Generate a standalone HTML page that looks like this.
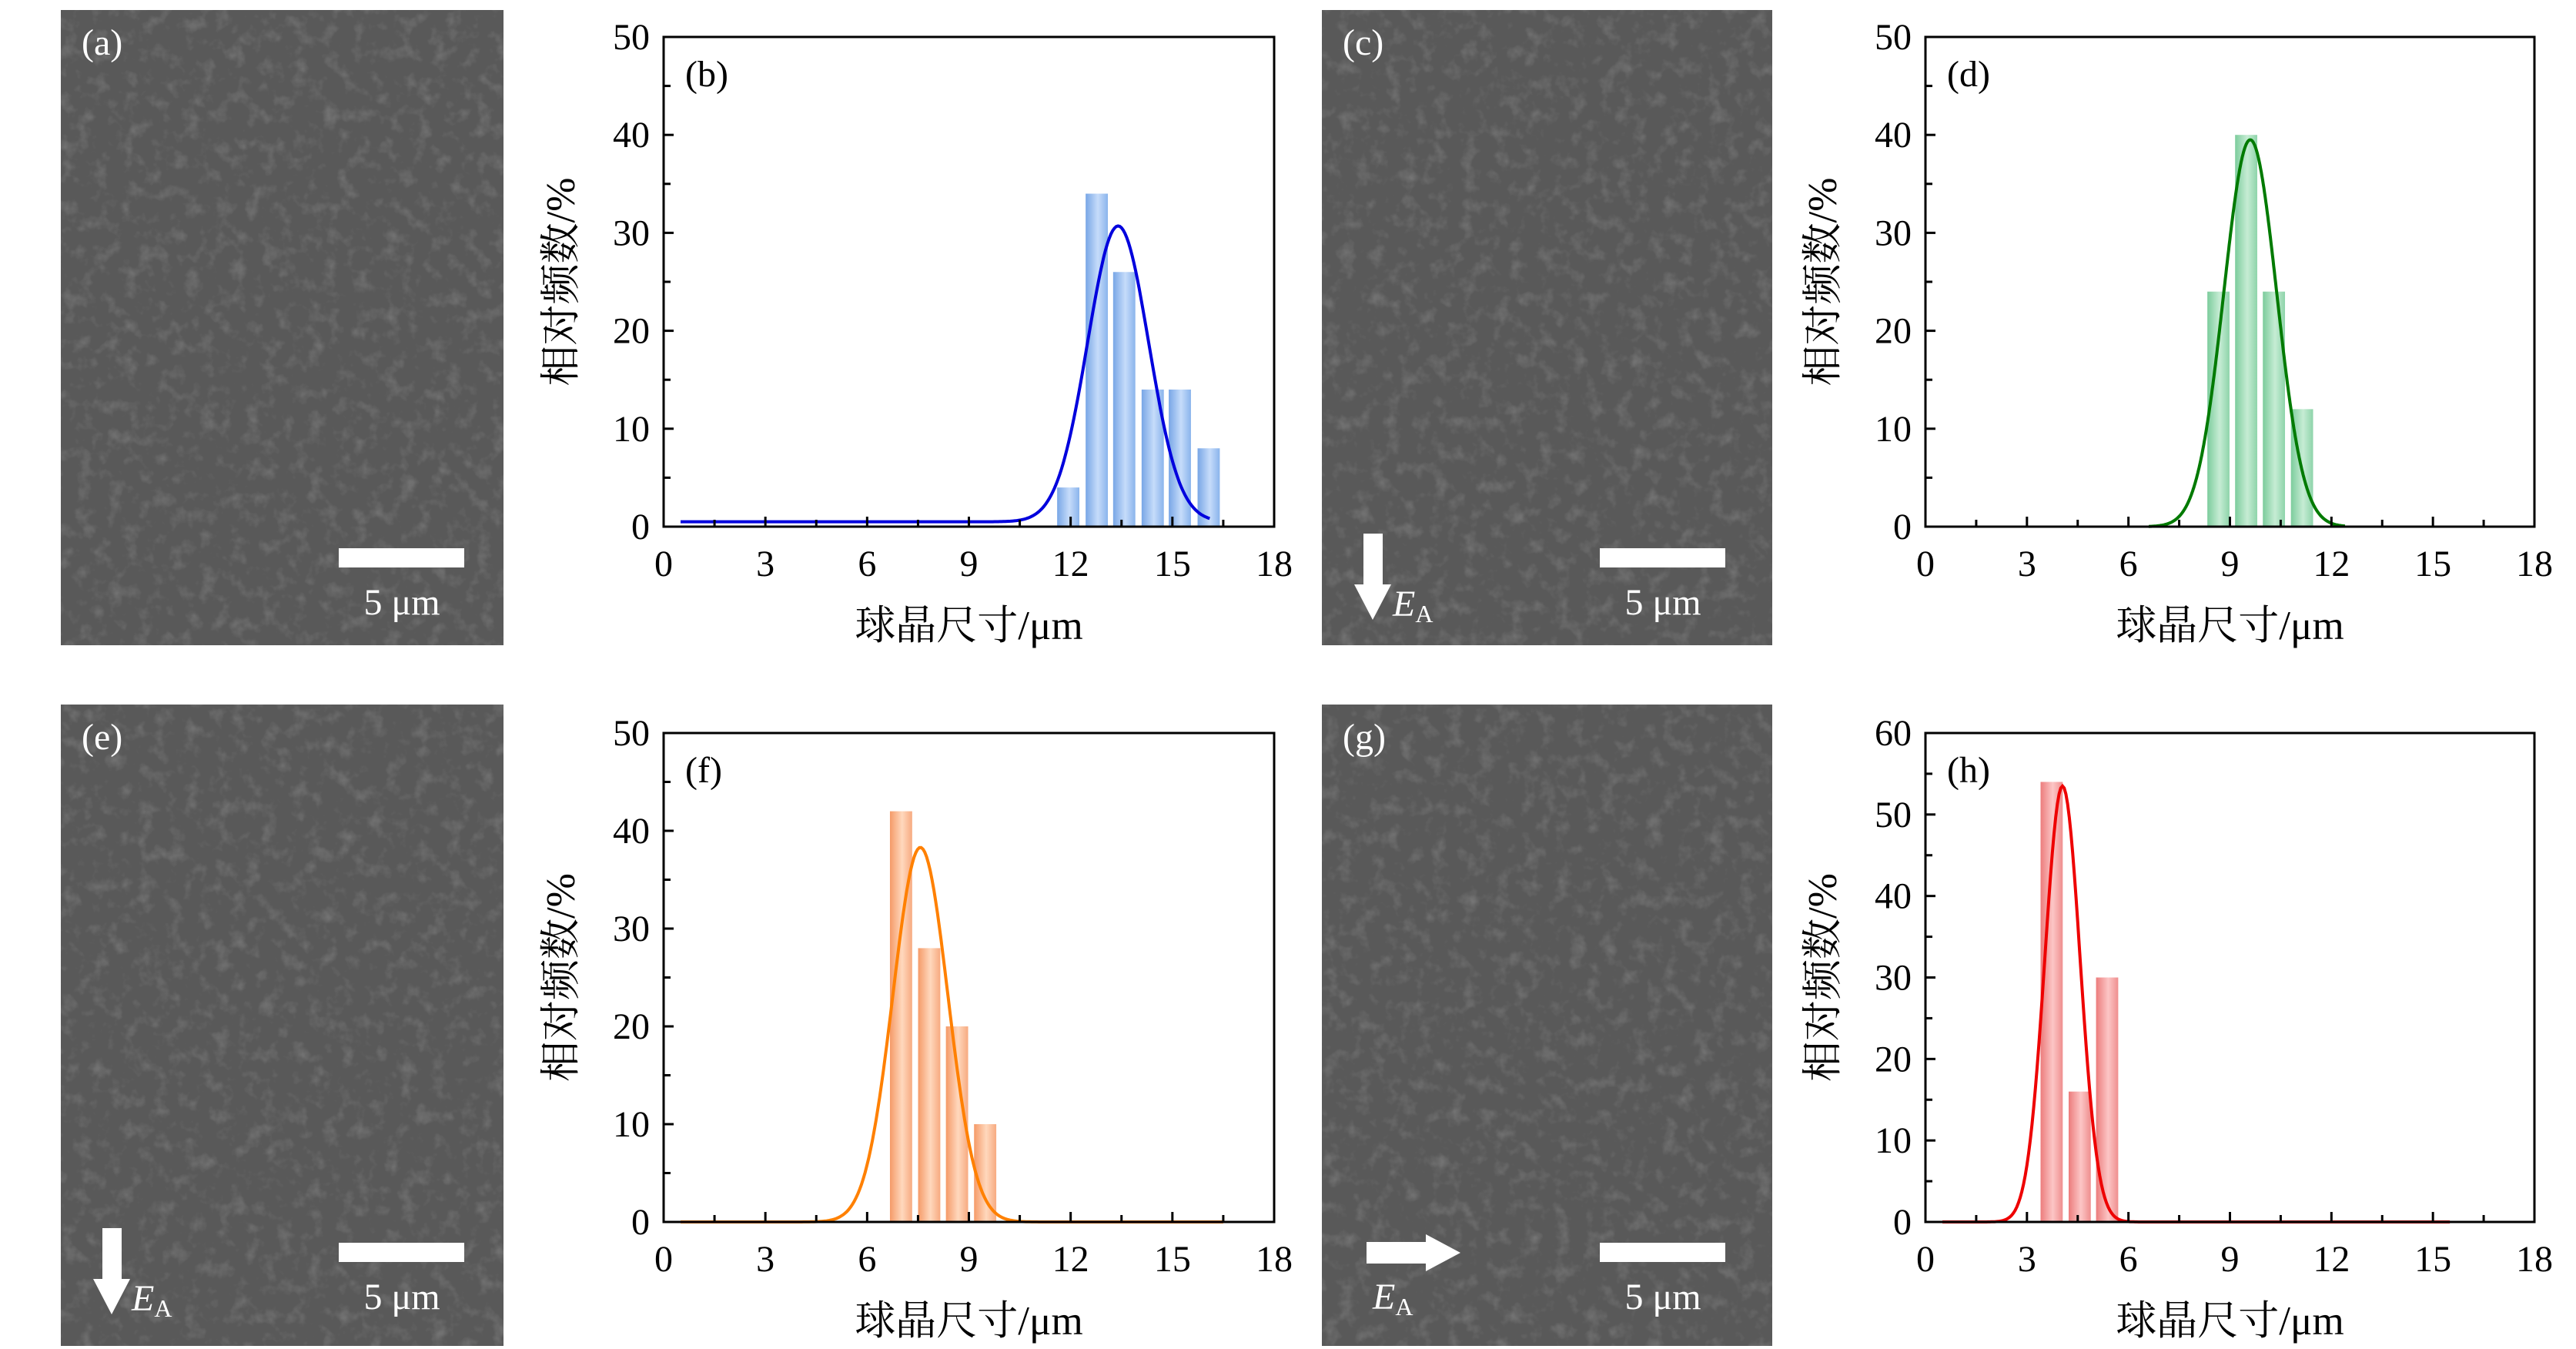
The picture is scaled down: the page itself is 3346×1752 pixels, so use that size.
<!DOCTYPE html>
<html><head><meta charset="utf-8"><style>
html,body{margin:0;padding:0;background:#fff;}
svg{display:block;}
</style></head><body>
<svg id="fig" width="3346" height="1752" viewBox="0 0 3346 1752" xmlns="http://www.w3.org/2000/svg">
<defs>
<filter id="noise" x="0" y="0" width="100%" height="100%">
<feTurbulence type="fractalNoise" baseFrequency="0.05" numOctaves="3" seed="3"/>
<feColorMatrix type="matrix" values="0 0 0 0 1  0 0 0 0 1  0 0 0 0 1  1.2 0 0 0 -0.6"/>
</filter>
<linearGradient id="g-blue" x1="0" x2="1" y1="0" y2="0"><stop offset="0" stop-color="#78a6e6"/><stop offset="0.55" stop-color="#c6dcfa"/><stop offset="1" stop-color="#8ab4ec"/></linearGradient>
<linearGradient id="g-green" x1="0" x2="1" y1="0" y2="0"><stop offset="0" stop-color="#7ccc9c"/><stop offset="0.55" stop-color="#c6ecd4"/><stop offset="1" stop-color="#8ed4aa"/></linearGradient>
<linearGradient id="g-orange" x1="0" x2="1" y1="0" y2="0"><stop offset="0" stop-color="#f59a68"/><stop offset="0.55" stop-color="#ffd8bd"/><stop offset="1" stop-color="#f7aa80"/></linearGradient>
<linearGradient id="g-red" x1="0" x2="1" y1="0" y2="0"><stop offset="0" stop-color="#ec7c7c"/><stop offset="0.55" stop-color="#fcc6c6"/><stop offset="1" stop-color="#ef8e8e"/></linearGradient>
</defs>
</svg>
<script>
// ---- chart data ----
const xTicks = [0, 3, 6, 9, 12, 15, 18];
const yTicksB = [0, 10, 20, 30, 40, 50];
const yTicksH = [0, 10, 20, 30, 40, 50, 60];
const binsB = [11.93, 12.77, 13.58, 14.42, 15.22, 16.07];
const valsB = [4, 34, 26, 14, 14, 8];
const fitB = [13.4, 0.9, 30.2, 0.5, 0.5, 16.1]; // mu, sigma, amp, base, xstart, xend
const binsD = [8.66, 9.48, 10.3, 11.13];
const valsD = [24, 40, 24, 12];
const fitD = [9.6, 0.78, 39.5, 0, 6.6, 12.4];
const binsF = [7.0, 7.83, 8.65, 9.48];
const valsF = [42, 28, 20, 10];
const fitF = [7.57, 0.81, 38.3, 0, 0.5, 16.5];
const binsH = [3.73, 4.56, 5.37];
const valsH = [54, 16, 30];
const fitH = [4.05, 0.52, 53.5, 0, 0.5, 15.5];

const NS = 'http://www.w3.org/2000/svg';
const svg = document.getElementById('fig');
function mk(tag, attrs, parent) {
  const e = document.createElementNS(NS, tag);
  for (const k in attrs) e.setAttribute(k, attrs[k]);
  (parent || svg).appendChild(e);
  return e;
}
const SERIF = '"Liberation Serif", "Noto Serif CJK SC", serif';

// ---- micrograph panels ----
function micro(x, y, w, h, label, key) {
  const g = mk('g', {});
  
  
  mk('rect', {x: x, y: y, width: w, height: h, fill: '#595959'}, g);
  mk('rect', {x: x, y: y, width: w, height: h, filter: 'url(#noise)', opacity: 0.3}, g);
  const t = mk('text', {x: x + 27, y: y + 58, fill: '#fff', 'font-family': SERIF, 'font-size': 48}, g);
  t.textContent = label;
  
  
  const sb = mk('rect', {x: x + 361, y: y + 699, width: 163, height: 25, fill: '#fff'}, g);
  
  
  const st = mk('text', {x: x + 443, y: y + 785, fill: '#fff', 'font-family': SERIF, 'font-size': 48, 'text-anchor': 'middle'}, g);
  st.textContent = '5 μm';
  
  
  return g;
}
function downArrow(x, y, key) {
  const g = mk('g', {});
  
  
  mk('polygon', {points: `${x+54},${y+680} ${x+79},${y+680} ${x+79},${y+746} ${x+90},${y+746} ${x+66},${y+792} ${x+42},${y+746} ${x+54},${y+746}`, fill: '#fff'}, g);
  const t = mk('text', {x: x + 92, y: y + 787, fill: '#fff', 'font-family': SERIF, 'font-size': 48, 'font-style': 'italic'}, g);
  t.textContent = 'E';
  const s = mk('tspan', {'font-size': 32, 'font-style': 'normal', dy: 8}, t);
  s.textContent = 'A';
}
function rightArrow(x, y, key) {
  const g = mk('g', {});
  
  
  mk('polygon', {points: `${x+58},${y+698} ${x+135},${y+698} ${x+135},${y+688} ${x+180},${y+712} ${x+135},${y+736} ${x+135},${y+726} ${x+58},${y+726}`, fill: '#fff'}, g);
  const t = mk('text', {x: x + 66, y: y + 785, fill: '#fff', 'font-family': SERIF, 'font-size': 48, 'font-style': 'italic'}, g);
  t.textContent = 'E';
  const s = mk('tspan', {'font-size': 32, 'font-style': 'normal', dy: 8}, t);
  s.textContent = 'A';
}
micro(79, 13, 575, 825, '(a)', 'a');
micro(1717, 13, 585, 825, '(c)', 'c');
downArrow(1717, 13, 'c');
micro(79, 915, 575, 833, '(e)', 'e');
downArrow(79, 915, 'e');
micro(1717, 915, 585, 833, '(g)', 'g');
rightArrow(1717, 915, 'g');

// ---- histogram charts ----
function chart(cfg) {
  const {L, R, T, B, ymax, yTicks, bins, vals, fit, color, grad, label, key} = cfg;
  const g = mk('g', {});
  
  
  const xs = v => L + (v / 18) * (R - L);
  const ys = v => B - (v / ymax) * (B - T);
  const bw = 0.655;
  bins.forEach((c, i) => {
    const r = mk('rect', {x: xs(c - bw / 2), y: ys(vals[i]), width: xs(bw) - L, height: B - ys(vals[i]), fill: `url(#${grad})`}, g);
    
    
  });
  const [mu, sg, amp, base, x0, x1] = fit;
  let d = '';
  const N = 300;
  for (let i = 0; i <= N; i++) {
    const xv = x0 + (x1 - x0) * i / N;
    const yv = base + amp * Math.exp(-((xv - mu) ** 2) / (2 * sg * sg));
    d += (i ? 'L' : 'M') + xs(xv).toFixed(1) + ',' + ys(yv).toFixed(1);
  }
  const p = mk('path', {d: d, fill: 'none', stroke: color, 'stroke-width': 4}, g);
  
  
  const fr = mk('rect', {x: L, y: T, width: R - L, height: B - T, fill: 'none', stroke: '#000', 'stroke-width': 3}, g);
  
  
  xTicks.forEach((v, i) => {
    mk('line', {x1: xs(v), x2: xs(v), y1: B, y2: B - 13, stroke: '#000', 'stroke-width': 3}, g);
    if (i < xTicks.length - 1) mk('line', {x1: xs(v + 1.5), x2: xs(v + 1.5), y1: B, y2: B - 9, stroke: '#000', 'stroke-width': 3}, g);
    const t = mk('text', {x: xs(v), y: B + 64, 'font-family': SERIF, 'font-size': 48, 'text-anchor': 'middle'}, g);
    t.textContent = v;
    
    
  });
  const step = yTicks[1] - yTicks[0];
  yTicks.forEach((v, i) => {
    mk('line', {x1: L, x2: L + 13, y1: ys(v), y2: ys(v), stroke: '#000', 'stroke-width': 3}, g);
    if (i < yTicks.length - 1) mk('line', {x1: L, x2: L + 9, y1: ys(v + step / 2), y2: ys(v + step / 2), stroke: '#000', 'stroke-width': 3}, g);
    const t = mk('text', {x: L - 18, y: ys(v) + 16, 'font-family': SERIF, 'font-size': 48, 'text-anchor': 'end'}, g);
    t.textContent = v;
    
    
  });
  const pl = mk('text', {x: L + 28, y: T + 64, 'font-family': SERIF, 'font-size': 48}, g);
  pl.textContent = label;
  
  
  const xt = mk('text', {x: (L + R) / 2, y: B + 146, 'font-family': SERIF, 'font-size': 53, 'text-anchor': 'middle'}, g);
  xt.textContent = '球晶尺寸/μm';
  
  
  const cy = (T + B) / 2;
  const yt = mk('text', {x: L - 116, y: cy, 'font-family': SERIF, 'font-size': 53, 'text-anchor': 'middle', transform: `rotate(-90 ${L - 116} ${cy})`}, g);
  yt.textContent = '相对频数/%';
  
  
}
chart({L: 862, R: 1655, T: 48, B: 684, ymax: 50, yTicks: yTicksB, bins: binsB, vals: valsB, fit: fitB, color: '#0000dd', grad: 'g-blue', label: '(b)', key: 'b'});
chart({L: 2501, R: 3292, T: 48, B: 684, ymax: 50, yTicks: yTicksB, bins: binsD, vals: valsD, fit: fitD, color: '#007a00', grad: 'g-green', label: '(d)', key: 'd'});
chart({L: 862, R: 1655, T: 952, B: 1587, ymax: 50, yTicks: yTicksB, bins: binsF, vals: valsF, fit: fitF, color: '#ff8000', grad: 'g-orange', label: '(f)', key: 'f'});
chart({L: 2501, R: 3292, T: 952, B: 1587, ymax: 60, yTicks: yTicksH, bins: binsH, vals: valsH, fit: fitH, color: '#ee0000', grad: 'g-red', label: '(h)', key: 'h'});
</script>
</body></html>
